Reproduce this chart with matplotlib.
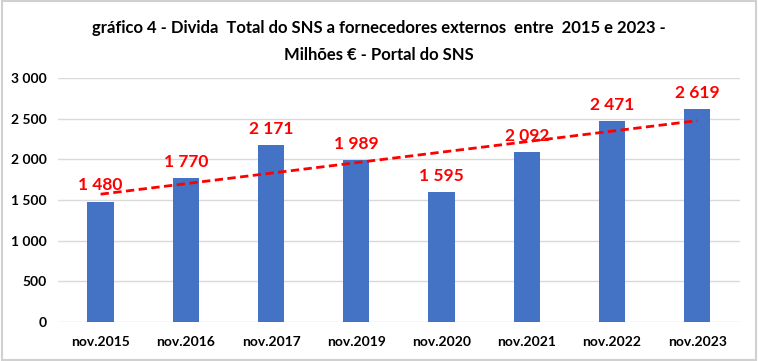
import matplotlib
matplotlib.use("Agg")
import matplotlib.pyplot as plt
import numpy as np
from matplotlib.patches import Rectangle

plt.rcParams['font.family'] = ['Lato', 'DejaVu Sans']

periodos = ['nov.2015', 'nov.2016', 'nov.2017', 'nov.2019',
            'nov.2020', 'nov.2021', 'nov.2022', 'nov.2023']
divida = [1480, 1770, 2171, 1989, 1595, 2092, 2471, 2619]
yticks = [0, 500, 1000, 1500, 2000, 2500, 3000]


def fmt(v):
    return f"{v:,}".replace(",", " ")


fig = plt.figure(figsize=(7.58, 3.61), dpi=100)
ax = fig.add_axes([0.0765, 0.108, 0.8995, 0.676])

x = np.arange(len(periodos))
ax.bar(x, divida, width=0.31, color='#4472C4', zorder=2)

# linha de tendência linear (como no Excel)
a, b = np.polyfit(x, divida, 1)
ax.plot(x, a * x + b, color='#FF0000', linestyle=(0, (3, 1.6)), linewidth=2, zorder=3)

for xi, v in zip(x, divida):
    ax.annotate(fmt(v), (xi, v), xytext=(0, 6), textcoords='offset points',
                ha='center', va='bottom', color='#FF0000',
                fontsize=12.5, fontweight='bold', zorder=4)

ax.set_xlim(-0.5, len(periodos) - 0.5)
ax.set_ylim(0, 3000)
ax.set_yticks(yticks)
ax.set_yticklabels([fmt(t) for t in yticks], fontsize=10, fontweight='bold')
ax.set_xticks(x)
ax.set_xticklabels(periodos, fontsize=10, fontweight='bold')
ax.tick_params(length=0, pad=8)
ax.tick_params(axis='x', pad=10)
ax.grid(axis='y', color='#D9D9D9', linewidth=1, zorder=0)
for s in ax.spines.values():
    s.set_visible(False)

fig.text(0.5, 0.922, 'gráfico 4 - Divida  Total do SNS a fornecedores externos  entre  2015 e 2023 -',
         ha='center', va='center', fontsize=12, fontweight='bold')
fig.text(0.5, 0.848, 'Milhões € - Portal do SNS',
         ha='center', va='center', fontsize=12, fontweight='bold')

fig.patches.append(Rectangle((0.002, 0.003), 0.996, 0.994, transform=fig.transFigure,
                             fill=False, edgecolor='#D0D0D0', linewidth=1.5))

fig.savefig('out.png', dpi=100)
